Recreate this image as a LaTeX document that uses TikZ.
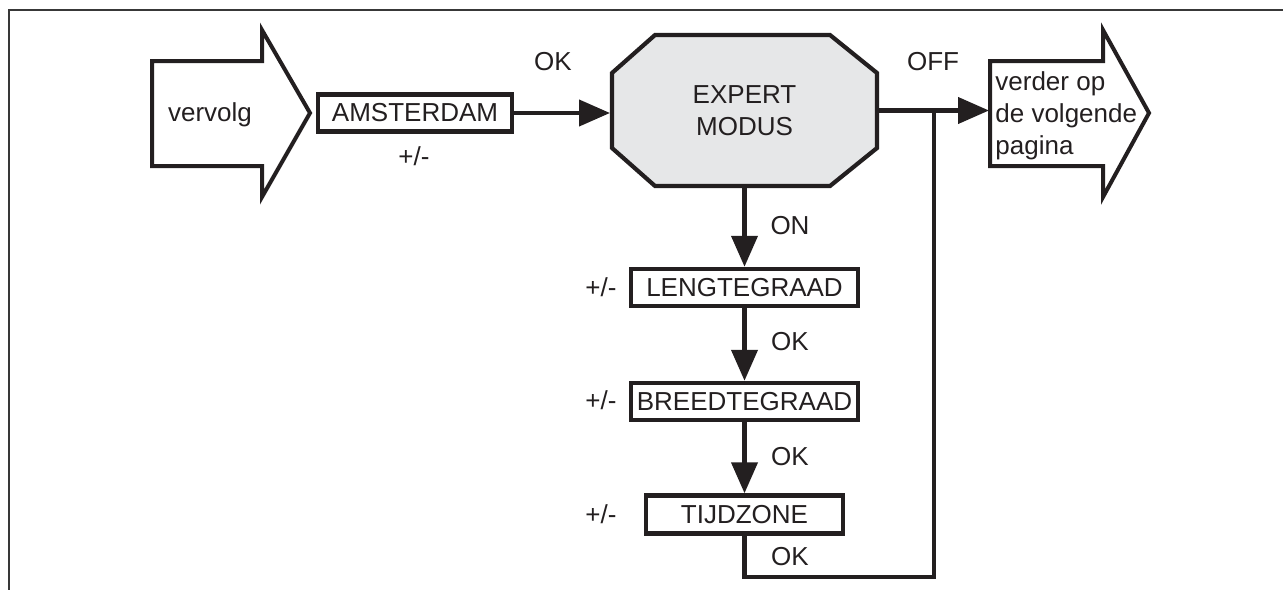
\documentclass[tikz,border=0pt]{standalone}
\usepackage{fontspec}
\setmainfont{Liberation Sans}
\usetikzlibrary{arrows.meta}
\definecolor{ink}{HTML}{231F20}
\definecolor{octfill}{HTML}{E6E7E8}
\definecolor{framec}{HTML}{383838}
\begin{document}
\begin{tikzpicture}[x=0.5pt,y=-0.5pt,
  every node/.style={font=\fontsize{13}{16}\selectfont, text=ink, inner sep=0pt},
  framestyle/.style={draw=framec, line width=1.25pt},
  outline/.style={draw=ink, line width=2pt, line join=miter},
  box/.style={draw=ink, line width=2.25pt, fill=white, minimum width=113.5pt, minimum height=18.5pt},
  conn/.style={draw=ink, line width=2.1pt, line join=miter},
  arr/.style={conn, -{Triangle[length=15.5pt,width=13pt]}},
  octline/.style={draw=ink, line width=2.1pt, fill=octfill, line join=miter}
]
\useasboundingbox (0,0) rectangle (1283,589);
% frame
\draw[framestyle] (1290,10) -- (9,10) -- (9,595);

% left entry arrow
\draw[outline] (152,61) -- (262,61) -- (262,30) -- (310,113) -- (262,197) -- (262,166) -- (152,166) -- cycle;
\node[anchor=base] (vervolg) at (210,121) {vervolg};

% right exit arrow
\draw[outline] (990,61) -- (1103,61) -- (1103,30) -- (1149,113) -- (1103,197) -- (1103,166) -- (990,166) -- cycle;
\node[anchor=north west, align=left] (verder) at (995,71) {verder op\\de volgende\\pagina};
\coordinate (nextin) at (989,110.5);

% boxes
\node[box, minimum width=97pt] (amst) at (415,113) {AMSTERDAM};

\draw[octline] (612,73) -- (655,35) -- (830,35) -- (877,73) -- (877,148) -- (830,186) -- (655,186) -- (612,148) -- cycle;
\node[minimum width=132.5pt, minimum height=75.5pt, outer sep=1pt, align=center] (oct) at (744.5,110.5) {EXPERT\\MODUS};

\node[box] (leng) at (744.5,287.5) {LENGTEGRAAD};
\node[box] (breed) at (744.5,401.5) {BREEDTEGRAAD};
\node[box, minimum width=98.5pt, minimum height=19pt] (tijd) at (744.5,514.5) {TIJDZONE};

% connectors
\draw[arr] (amst.east) -- (oct.west |- amst.east);
\draw[arr] (oct.east) -- (nextin);
\draw[arr] (oct.south) -- (leng.north);
\draw[arr] (leng.south) -- (breed.north);
\draw[arr] (breed.south) -- (tijd.north);
\coordinate (loopr) at (934,577);
\coordinate (junc) at (934,110.5);
\draw[conn] (tijd.south) |- (loopr) -- (junc);

% labels
\node (okA) at (553,62) {OK};
\node (pmA) at (414,156) {+/-};
\node (off) at (933,62) {OFF};
\node (on) at (790,226) {ON};
\node (okB) at (790,342) {OK};
\node (okC) at (790,457) {OK};
\node (okD) at (790,557) {OK};
\node (pmB) at (601,287) {+/-};
\node (pmC) at (601,400) {+/-};
\node (pmD) at (601,514) {+/-};
\end{tikzpicture}
\end{document}
